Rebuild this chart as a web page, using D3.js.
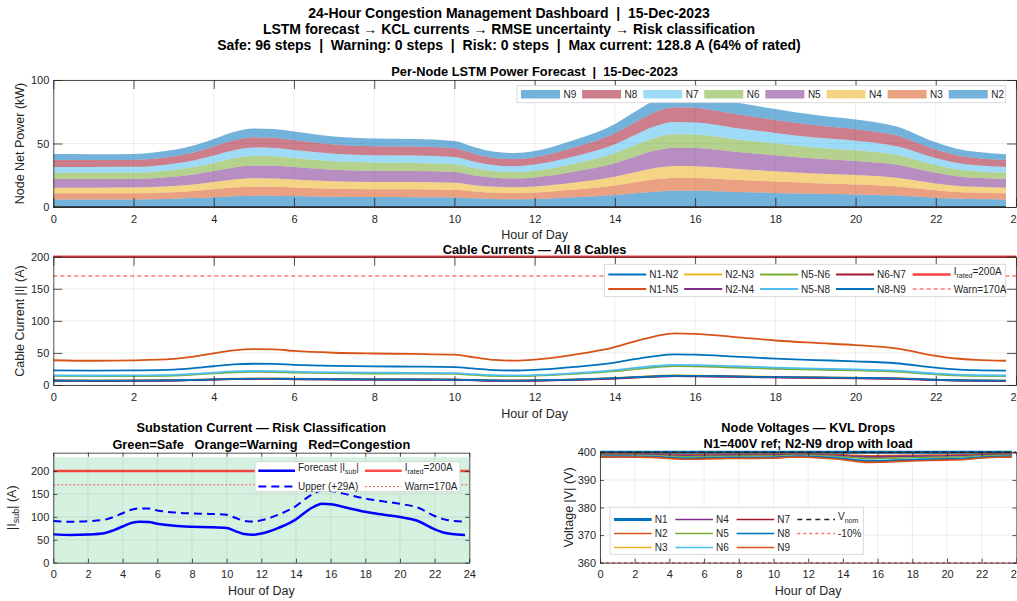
<!DOCTYPE html>
<html>
<head>
<meta charset="utf-8">
<script src="https://cdn.jsdelivr.net/npm/d3@7"></script>
<style>
  body { margin: 0; background: #fff; }
  svg { font-family: "Liberation Sans", Arial, Helvetica, sans-serif; }
  text { white-space: pre; }
</style>
</head>
<body>
<svg id="chart" width="1017" height="601"></svg>
<script>
// time grid (hour of day) used by every series
const hours = [0, 1, 2, 3, 3.5, 4, 4.5, 5, 5.5, 6, 7, 8, 9, 10, 10.5, 11, 11.5, 12, 13, 14, 14.5, 15, 15.5, 16, 17, 18, 19, 20, 21, 22, 22.5, 23, 23.75];
const hourTicks = [0, 2, 4, 6, 8, 10, 12, 14, 16, 18, 20, 22, 24];

// per-node LSTM power forecast (kW)
const nodeNames = ['N2', 'N3', 'N4', 'N5', 'N6', 'N7', 'N8', 'N9'];
const pN2 = [6.0, 6.0, 6.0, 6.5, 7.0, 7.7, 8.5, 8.9, 8.9, 8.6, 8.0, 7.8, 7.7, 7.5, 6.8, 6.3, 6.1, 6.3, 7.6, 9.4, 10.8, 12.1, 12.7, 12.7, 11.9, 11.1, 10.4, 9.9, 9.1, 7.3, 6.6, 6.3, 6.0];
const pN3 = [4.8, 4.8, 4.8, 5.2, 5.6, 6.2, 6.8, 7.1, 7.1, 6.8, 6.4, 6.2, 6.2, 6.0, 5.4, 5.0, 4.9, 5.1, 6.1, 7.5, 8.6, 9.7, 10.2, 10.1, 9.5, 8.9, 8.3, 7.9, 7.3, 5.9, 5.3, 5.0, 4.8];
const pN4 = [4.4, 4.4, 4.5, 4.8, 5.1, 5.7, 6.3, 6.6, 6.5, 6.3, 5.9, 5.7, 5.7, 5.5, 5.0, 4.6, 4.5, 4.7, 5.6, 6.9, 8.0, 8.9, 9.4, 9.3, 8.7, 8.2, 7.7, 7.3, 6.7, 5.4, 4.9, 4.6, 4.4];
const pN5 = [6.8, 6.8, 6.8, 7.3, 7.9, 8.7, 9.6, 10.1, 10.0, 9.7, 9.0, 8.8, 8.7, 8.5, 7.7, 7.1, 6.9, 7.2, 8.6, 10.7, 12.2, 13.7, 14.4, 14.3, 13.4, 12.6, 11.8, 11.2, 10.4, 8.3, 7.5, 7.1, 6.8];
const pN6 = [5.0, 5.0, 5.0, 5.4, 5.8, 6.4, 7.1, 7.4, 7.4, 7.1, 6.7, 6.5, 6.4, 6.2, 5.6, 5.2, 5.1, 5.3, 6.4, 7.9, 9.0, 10.1, 10.6, 10.6, 9.9, 9.2, 8.7, 8.3, 7.6, 6.1, 5.5, 5.2, 5.0];
const pN7 = [4.5, 4.5, 4.5, 4.9, 5.2, 5.8, 6.4, 6.7, 6.6, 6.4, 6.0, 5.8, 5.8, 5.6, 5.1, 4.7, 4.6, 4.8, 5.7, 7.1, 8.1, 9.1, 9.6, 9.5, 8.9, 8.3, 7.8, 7.5, 6.9, 5.5, 5.0, 4.7, 4.5];
const pN8 = [5.5, 5.5, 5.5, 5.9, 6.4, 7.1, 7.8, 8.2, 8.1, 7.9, 7.3, 7.1, 7.1, 6.9, 6.2, 5.7, 5.6, 5.8, 7.0, 8.6, 9.9, 11.1, 11.7, 11.6, 10.9, 10.2, 9.6, 9.1, 8.4, 6.7, 6.1, 5.7, 5.5];
const pN9 = [4.7, 4.6, 4.7, 5.0, 5.4, 6.0, 6.6, 6.9, 6.9, 6.7, 6.2, 6.0, 6.0, 5.8, 5.3, 4.9, 4.8, 4.9, 5.9, 7.3, 8.4, 9.4, 9.9, 9.9, 9.2, 8.6, 8.1, 7.7, 7.1, 5.7, 5.2, 4.9, 4.6];

// cable currents (A)
const cableNames = ['N1-N2', 'N1-N5', 'N2-N3', 'N2-N4', 'N5-N6', 'N5-N8', 'N6-N7', 'N8-N9'];
const iN1N2 = [22.9, 22.4, 22.8, 24.1, 26.3, 29.2, 32.0, 33.1, 32.9, 31.5, 29.8, 29.0, 28.7, 27.9, 25.5, 23.1, 22.6, 23.5, 28.1, 35.0, 40.3, 45.0, 47.7, 47.2, 44.2, 41.1, 38.9, 36.8, 33.9, 27.0, 24.4, 23.1, 22.4];
const iN1N5 = [38.6, 37.8, 38.4, 40.6, 44.4, 49.4, 54.1, 55.9, 55.6, 53.1, 50.3, 49.1, 48.4, 47.2, 43.1, 39.1, 38.1, 39.7, 47.5, 59.1, 68.1, 75.9, 80.5, 79.7, 74.7, 69.4, 65.6, 62.2, 57.2, 45.6, 41.3, 39.1, 37.8];
const iN2N3 = [7.1, 7.0, 7.1, 7.5, 8.2, 9.1, 9.9, 10.3, 10.2, 9.8, 9.3, 9.0, 8.9, 8.7, 7.9, 7.2, 7.0, 7.3, 8.7, 10.9, 12.5, 14.0, 14.8, 14.7, 13.7, 12.8, 12.1, 11.4, 10.5, 8.4, 7.6, 7.2, 7.0];
const iN2N4 = [6.6, 6.4, 6.5, 6.9, 7.5, 8.4, 9.2, 9.5, 9.4, 9.0, 8.5, 8.3, 8.2, 8.0, 7.3, 6.6, 6.5, 6.7, 8.1, 10.0, 11.6, 12.9, 13.7, 13.5, 12.7, 11.8, 11.1, 10.5, 9.7, 7.7, 7.0, 6.6, 6.4];
const iN5N6 = [14.1, 13.8, 14.0, 14.8, 16.2, 18.0, 19.7, 20.4, 20.3, 19.4, 18.4, 17.9, 17.7, 17.2, 15.7, 14.3, 13.9, 14.5, 17.3, 21.5, 24.9, 27.7, 29.4, 29.1, 27.2, 25.3, 23.9, 22.7, 20.9, 16.6, 15.0, 14.3, 13.8];
const iN5N8 = [15.1, 14.8, 15.0, 15.9, 17.3, 19.3, 21.1, 21.8, 21.7, 20.7, 19.6, 19.2, 18.9, 18.4, 16.8, 15.3, 14.9, 15.5, 18.5, 23.1, 26.6, 29.6, 31.4, 31.1, 29.2, 27.1, 25.6, 24.3, 22.3, 17.8, 16.1, 15.3, 14.8];
const iN6N7 = [6.7, 6.5, 6.6, 7.0, 7.7, 8.5, 9.3, 9.7, 9.6, 9.2, 8.7, 8.5, 8.4, 8.2, 7.5, 6.8, 6.6, 6.9, 8.2, 10.2, 11.8, 13.1, 13.9, 13.8, 12.9, 12.0, 11.3, 10.7, 9.9, 7.9, 7.1, 6.8, 6.5];
const iN8N9 = [6.9, 6.8, 6.9, 7.3, 8.0, 8.8, 9.7, 10.0, 10.0, 9.5, 9.0, 8.8, 8.7, 8.5, 7.7, 7.0, 6.8, 7.1, 8.5, 10.6, 12.2, 13.6, 14.4, 14.3, 13.4, 12.4, 11.8, 11.1, 10.2, 8.2, 7.4, 7.0, 6.8];

// substation current (A): forecast and upper band
const iSub = [61.8, 60.5, 61.5, 65.0, 71.0, 79.0, 86.5, 89.5, 89.0, 85.0, 80.5, 78.5, 77.5, 75.5, 69.0, 62.5, 61.0, 63.5, 76.0, 94.5, 109.0, 121.5, 128.8, 127.5, 119.5, 111.0, 105.0, 99.5, 91.5, 73.0, 66.0, 62.5, 60.5];
const iUpper = [90.8, 89.5, 90.5, 94.0, 100.0, 108.0, 115.5, 118.5, 118.0, 114.0, 109.5, 107.5, 106.5, 104.5, 98.0, 91.5, 90.0, 92.5, 105.0, 123.5, 138.0, 150.5, 157.8, 156.5, 148.5, 140.0, 134.0, 128.5, 120.5, 102.0, 95.0, 91.5, 89.5];
const iRated = 200, iWarn = 170, safeTop = 230;

// node voltages (V)
const vNom = 400, vLow = 360;
const vN2 = [399.40, 399.41, 399.40, 399.37, 399.31, 399.23, 399.16, 399.13, 399.14, 399.17, 399.22, 399.24, 399.25, 399.27, 399.33, 399.39, 399.41, 399.38, 399.26, 399.08, 398.94, 398.82, 398.75, 398.76, 398.84, 398.92, 398.98, 399.03, 399.11, 399.29, 399.36, 399.39, 399.41];
const vN3 = [399.15, 399.17, 399.15, 399.11, 399.02, 398.91, 398.81, 398.77, 398.78, 398.83, 398.89, 398.92, 398.94, 398.96, 399.05, 399.14, 399.16, 399.12, 398.95, 398.70, 398.50, 398.33, 398.23, 398.25, 398.36, 398.47, 398.55, 398.63, 398.74, 399.00, 399.09, 399.14, 399.17];
const vN4 = [399.20, 399.22, 399.20, 399.16, 399.08, 398.98, 398.88, 398.84, 398.85, 398.90, 398.96, 398.98, 399.00, 399.02, 399.10, 399.19, 399.21, 399.18, 399.02, 398.78, 398.59, 398.42, 398.34, 398.35, 398.46, 398.56, 398.64, 398.71, 398.82, 399.06, 399.14, 399.19, 399.22];
const vN5 = [398.90, 398.92, 398.90, 398.84, 398.73, 398.59, 398.46, 398.40, 398.42, 398.48, 398.57, 398.60, 398.62, 398.66, 398.77, 398.89, 398.91, 398.87, 398.65, 398.32, 398.06, 397.83, 397.71, 397.73, 397.88, 398.02, 398.13, 398.23, 398.37, 398.70, 398.82, 398.89, 398.92];
const vN6 = [398.60, 398.63, 398.60, 398.53, 398.39, 398.21, 398.04, 397.97, 397.98, 398.07, 398.18, 398.22, 398.25, 398.29, 398.43, 398.59, 398.61, 398.56, 398.28, 397.86, 397.54, 397.24, 397.09, 397.12, 397.30, 397.48, 397.62, 397.75, 397.93, 398.35, 398.50, 398.59, 398.63];
const vN7 = [398.40, 398.43, 398.40, 398.32, 398.16, 397.95, 397.76, 397.68, 397.70, 397.79, 397.92, 397.97, 398.00, 398.05, 398.21, 398.38, 398.42, 398.35, 398.03, 397.55, 397.18, 396.85, 396.67, 396.70, 396.91, 397.12, 397.28, 397.42, 397.63, 398.11, 398.29, 398.38, 398.43];
const vN8 = [398.50, 398.53, 398.50, 398.42, 398.27, 398.08, 397.90, 397.82, 397.84, 397.93, 398.05, 398.09, 398.12, 398.17, 398.32, 398.48, 398.51, 398.45, 398.15, 397.70, 397.36, 397.04, 396.88, 396.91, 397.10, 397.30, 397.45, 397.58, 397.78, 398.23, 398.39, 398.48, 398.53];
const vN9 = [398.25, 398.28, 398.25, 398.16, 397.99, 397.76, 397.55, 397.46, 397.48, 397.58, 397.72, 397.78, 397.81, 397.86, 398.04, 398.23, 398.27, 398.20, 397.85, 397.32, 396.92, 396.55, 396.36, 396.39, 396.62, 396.85, 397.02, 397.18, 397.41, 397.93, 398.13, 398.23, 398.28];

const ink = '#262626';
const svg = d3.select('#chart');

// ---------- helpers ----------
function grid(g, x, y, xt, yt) {
    const [x0, x1] = x.range(), [yb, ytop] = y.range();
    g.append('g').selectAll('line').data(xt).join('line')
        .attr('x1', d => x(d)).attr('x2', d => x(d)).attr('y1', ytop).attr('y2', yb);
    g.append('g').selectAll('line').data(yt).join('line')
        .attr('x1', x0).attr('x2', x1).attr('y1', d => y(d)).attr('y2', d => y(d));
    g.selectAll('line').attr('stroke', '#000').attr('stroke-opacity', 0.1).attr('stroke-width', 0.7);
}

function axes(g, x, y, xt, yt, tl) {
    const [x0, x1] = x.range(), [yb, ytop] = y.range();
    const list = [
        [d3.axisBottom(x).tickValues(xt).tickPadding(8), `translate(0,${yb})`],
        [d3.axisTop(x).tickValues(xt).tickFormat(''), `translate(0,${ytop})`],
        [d3.axisLeft(y).tickValues(yt).tickPadding(4), `translate(${x0},0)`],
        [d3.axisRight(y).tickValues(yt).tickFormat(''), `translate(${x1},0)`]
    ];
    list.forEach(([a, tr]) => {
        const ag = g.append('g').attr('transform', tr)
            .call(a.tickSizeInner(-tl).tickSizeOuter(0));
        ag.select('.domain').attr('stroke', ink).attr('stroke-width', 0.8);
        ag.selectAll('.tick line').attr('stroke', ink).attr('stroke-width', 0.8);
        ag.selectAll('.tick text').attr('fill', ink).style('font-size', '11px').style('font-family', null);
    });
}

// text with a subscript part: parts = [[str, isSub], ...]
function richText(sel, parts, subSize) {
    let shift = 0;
    parts.forEach(([s, sub]) => {
        const dy = sub ? 3 - shift : -shift;
        shift = sub ? 3 : 0;
        sel.append('tspan').attr('dy', dy).style('font-size', sub ? subSize : null).text(s);
    });
    return sel;
}

function title(lines, cx, y0, size, step) {
    lines.forEach((t, i) => {
        svg.append('text').attr('x', cx).attr('y', y0 + i * step).attr('dy', '0.35em')
            .attr('text-anchor', 'middle').style('font-weight', 'bold').style('font-size', size)
            .attr('fill', '#000').text(t);
    });
}

function xLabel(cx, y) {
    svg.append('text').attr('x', cx).attr('y', y).attr('dy', '0.35em').attr('text-anchor', 'middle')
        .style('font-size', '12.5px').attr('fill', ink).text('Hour of Day');
}

function yLabel(x, cy) {
    return svg.append('text').attr('transform', `translate(${x},${cy}) rotate(-90)`).attr('dy', '0.35em')
        .attr('text-anchor', 'middle').style('font-size', '12.5px').attr('fill', ink);
}

function legendBox(x, y, w, h) {
    const g = svg.append('g');
    g.append('rect').attr('x', x).attr('y', y).attr('width', w).attr('height', h)
        .attr('fill', '#fff').attr('stroke', '#d0d0d0').attr('stroke-width', 0.8);
    return g;
}

function legendLine(g, x, y, len, style, label) {
    g.append('line').attr('x1', x).attr('x2', x + len).attr('y1', y).attr('y2', y)
        .attr('stroke', style.color).attr('stroke-width', style.width)
        .attr('stroke-dasharray', style.dash || null).attr('stroke-opacity', style.opacity || 1);
    const t = g.append('text').attr('x', x + len + 3).attr('y', y).attr('dy', '0.35em')
        .style('font-size', '10px').attr('fill', ink);
    if (typeof label === 'string') t.text(label); else richText(t, label, '7px');
}

const line = (x, y) => d3.line().x((d, i) => x(hours[i])).y(d => y(d)).curve(d3.curveMonotoneX);

// ---------- main title ----------
title(['24-Hour Congestion Management Dashboard  |  15-Dec-2023',
       'LSTM forecast \u2192 KCL currents \u2192 RMSE uncertainty \u2192 Risk classification',
       'Safe: 96 steps  |  Warning: 0 steps  |  Risk: 0 steps  |  Max current: 128.8 A (64% of rated)'],
      509, 13, '14px', 16.2);

// ---------- panel 1: stacked node power ----------
{
    const x = d3.scaleLinear().domain([0, 24]).range([53.3, 1016]);
    const y = d3.scaleLinear().domain([0, 100]).range([207, 80]);
    const g = svg.append('g');
    grid(g, x, y, hourTicks, [0, 50, 100]);

    const series = [pN2, pN3, pN4, pN5, pN6, pN7, pN8, pN9];
    const colors = ['#0072BD', '#D95319', '#EDB120', '#7E2F8E', '#77AC30', '#4DBEEE', '#A2142F', '#0072BD'];
    const rows = hours.map((h, i) => {
        const r = {h: h};
        nodeNames.forEach((n, k) => r[n] = series[k][i]);
        return r;
    });
    const stacked = d3.stack().keys(nodeNames)(rows);
    const area = d3.area().x(d => x(d.data.h)).y0(d => y(d[0])).y1(d => y(d[1])).curve(d3.curveMonotoneX);
    g.append('g').selectAll('path').data(stacked).join('path')
        .attr('d', area).attr('fill', (d, i) => colors[i]).attr('fill-opacity', 0.55);
    g.append('line').attr('x1', x(0)).attr('x2', x(hours[hours.length - 1])).attr('y1', y(0)).attr('y2', y(0))
        .attr('stroke', ink).attr('stroke-width', 1.5);
    axes(g, x, y, hourTicks, [0, 50, 100], 9);

    title(['Per-Node LSTM Power Forecast  |  15-Dec-2023'], 534.6, 71.5, '12.8px', 0);
    xLabel(534.6, 234.5);
    yLabel(20, 143.5).text('Node Net Power (kW)');

    // legend, reversed order
    const lg = legendBox(517, 85.7, 488.7, 17);
    nodeNames.slice().reverse().forEach((n, i) => {
        const k = nodeNames.length - 1 - i;
        const lx = 521 + i * 61.1;
        lg.append('rect').attr('x', lx).attr('y', 90).attr('width', 39).attr('height', 8.5)
            .attr('fill', colors[k]).attr('fill-opacity', 0.55);
        lg.append('text').attr('x', lx + 42.5).attr('y', 94.3).attr('dy', '0.35em')
            .style('font-size', '10px').attr('fill', ink).text(n);
    });
}

// ---------- panel 2: cable currents ----------
{
    const x = d3.scaleLinear().domain([0, 24]).range([53.3, 1016]);
    const y = d3.scaleLinear().domain([0, 200]).range([385, 256.7]);
    const g = svg.append('g');
    grid(g, x, y, hourTicks, [0, 50, 100, 150, 200]);

    const series = [iN1N2, iN1N5, iN2N3, iN2N4, iN5N6, iN5N8, iN6N7, iN8N9];
    const colors = ['#0072BD', '#D95319', '#EDB120', '#7E2F8E', '#77AC30', '#4DBEEE', '#A2142F', '#0072BD'];
    series.forEach((s, k) => {
        g.append('path').attr('d', line(x, y)(s)).attr('fill', 'none')
            .attr('stroke', colors[k]).attr('stroke-width', 1.8);
    });
    g.append('line').attr('x1', x(0)).attr('x2', x(24)).attr('y1', y(iRated)).attr('y2', y(iRated))
        .attr('stroke', '#FF0000').attr('stroke-opacity', 0.75).attr('stroke-width', 2.5);
    g.append('line').attr('x1', x(0)).attr('x2', x(24)).attr('y1', y(iWarn)).attr('y2', y(iWarn))
        .attr('stroke', '#FF3030').attr('stroke-width', 1).attr('stroke-dasharray', '4,3');
    axes(g, x, y, hourTicks, [0, 50, 100, 150, 200], 9);

    title(['Cable Currents \u2014 All 8 Cables'], 534.6, 249.5, '12.8px', 0);
    xLabel(534.6, 413.3);
    yLabel(20, 321).text('Cable Current |I| (A)');

    const lg = legendBox(604.3, 264.3, 401.4, 32.4);
    const order = [[0, 2, 4, 6], [1, 3, 5, 7]];
    order.forEach((row, r) => {
        row.forEach((k, c) => {
            legendLine(lg, 608.3 + c * 75.9, 274.5 + r * 14.5, 38, {color: colors[k], width: 1.8}, cableNames[k]);
        });
    });
    legendLine(lg, 912.7, 274.5, 38, {color: '#FF0000', width: 2.5, opacity: 0.75}, [['I', false], ['rated', true], ['=200A', false]]);
    legendLine(lg, 912.7, 289, 38, {color: '#FF3030', width: 1, dash: '4,3'}, 'Warn=170A');
}

// ---------- panel 3: substation current ----------
{
    const x = d3.scaleLinear().domain([0, 24]).range([53.3, 469.3]);
    const y = d3.scaleLinear().domain([0, 240]).range([562.7, 452.7]);
    const g = svg.append('g');
    g.append('rect').attr('x', x(0)).attr('y', y(safeTop)).attr('width', x(24) - x(0))
        .attr('height', y(0) - y(safeTop)).attr('fill', '#d5f1e0');
    grid(g, x, y, hourTicks, [0, 50, 100, 150, 200]);

    g.append('line').attr('x1', x(0)).attr('x2', x(24)).attr('y1', y(iRated)).attr('y2', y(iRated))
        .attr('stroke', '#FF0000').attr('stroke-opacity', 0.7).attr('stroke-width', 2.5);
    g.append('line').attr('x1', x(0)).attr('x2', x(24)).attr('y1', y(iWarn)).attr('y2', y(iWarn))
        .attr('stroke', '#FF5050').attr('stroke-width', 1).attr('stroke-dasharray', '2,2');
    g.append('path').attr('d', line(x, y)(iUpper)).attr('fill', 'none')
        .attr('stroke', '#0000FF').attr('stroke-width', 2).attr('stroke-dasharray', '8,5');
    g.append('path').attr('d', line(x, y)(iSub)).attr('fill', 'none')
        .attr('stroke', '#0000FF').attr('stroke-width', 2.5);
    axes(g, x, y, hourTicks, [0, 50, 100, 150, 200], 4);

    title(['Substation Current \u2014 Risk Classification', 'Green=Safe   Orange=Warning   Red=Congestion'],
          261.3, 427.7, '12.8px', 16.6);
    xLabel(261.3, 591);
    richText(yLabel(16, 507.7), [['|I', false], ['sub', true], ['| (A)', false]], '9px');

    const lg = legendBox(255, 461.7, 205, 30);
    legendLine(lg, 258.3, 470.8, 36.7, {color: '#0000FF', width: 2.5}, [['Forecast |I', false], ['sub', true], ['|', false]]);
    legendLine(lg, 258.3, 486.6, 36.7, {color: '#0000FF', width: 2, dash: '8,5'}, 'Upper (+29A)');
    legendLine(lg, 365, 470.8, 36.7, {color: '#FF0000', width: 2.5, opacity: 0.7}, [['I', false], ['rated', true], ['=200A', false]]);
    legendLine(lg, 365, 486.6, 36.7, {color: '#FF5050', width: 1, dash: '2,2'}, 'Warn=170A');
}

// ---------- panel 4: node voltages ----------
{
    const x = d3.scaleLinear().domain([0, 24]).range([600, 1016.4]);
    const y = d3.scaleLinear().domain([360, 400]).range([562.7, 452.3]);
    const g = svg.append('g');
    grid(g, x, y, hourTicks, [360, 370, 380, 390, 400]);

    const names = ['N1', 'N2', 'N3', 'N4', 'N5', 'N6', 'N7', 'N8', 'N9'];
    const series = [hours.map(() => vNom), vN2, vN3, vN4, vN5, vN6, vN7, vN8, vN9];
    const colors = ['#0072BD', '#D95319', '#EDB120', '#7E2F8E', '#77AC30', '#4DBEEE', '#A2142F', '#0072BD', '#D95319'];
    const widths = [3, 1.6, 1.6, 1.6, 1.6, 1.6, 1.6, 1.6, 1.6];
    series.forEach((s, k) => {
        g.append('path').attr('d', line(x, y)(s)).attr('fill', 'none')
            .attr('stroke', colors[k]).attr('stroke-width', widths[k]);
    });
    g.append('line').attr('x1', x(0)).attr('x2', x(24)).attr('y1', y(vNom)).attr('y2', y(vNom))
        .attr('stroke', '#222').attr('stroke-width', 1.5).attr('stroke-dasharray', '5,4');
    g.append('line').attr('x1', x(0)).attr('x2', x(24)).attr('y1', y(vLow)).attr('y2', y(vLow))
        .attr('stroke', '#FF7070').attr('stroke-width', 1.5).attr('stroke-dasharray', '3,3');
    axes(g, x, y, hourTicks, [360, 370, 380, 390, 400], 4);

    title(['Node Voltages \u2014 KVL Drops', 'N1=400V ref; N2-N9 drop with load'], 808.2, 427.7, '12.8px', 16.2);
    xLabel(808.2, 591);
    yLabel(569, 507.5).text('Voltage |V| (V)');

    const lg = legendBox(610, 507.3, 253.3, 47);
    names.forEach((n, k) => {
        const c = Math.floor(k / 3), r = k % 3;
        legendLine(lg, 614 + c * 61.3, 519.5 + r * 14, 37.7, {color: colors[k], width: widths[k]}, n);
    });
    legendLine(lg, 797.3, 519.5, 37.7, {color: '#222', width: 1.5, dash: '5,4'}, [['V', false], ['nom', true]]);
    legendLine(lg, 797.3, 533.5, 37.7, {color: '#FF7070', width: 1.5, dash: '3,3'}, '-10%');
}
</script>
</body>
</html>
